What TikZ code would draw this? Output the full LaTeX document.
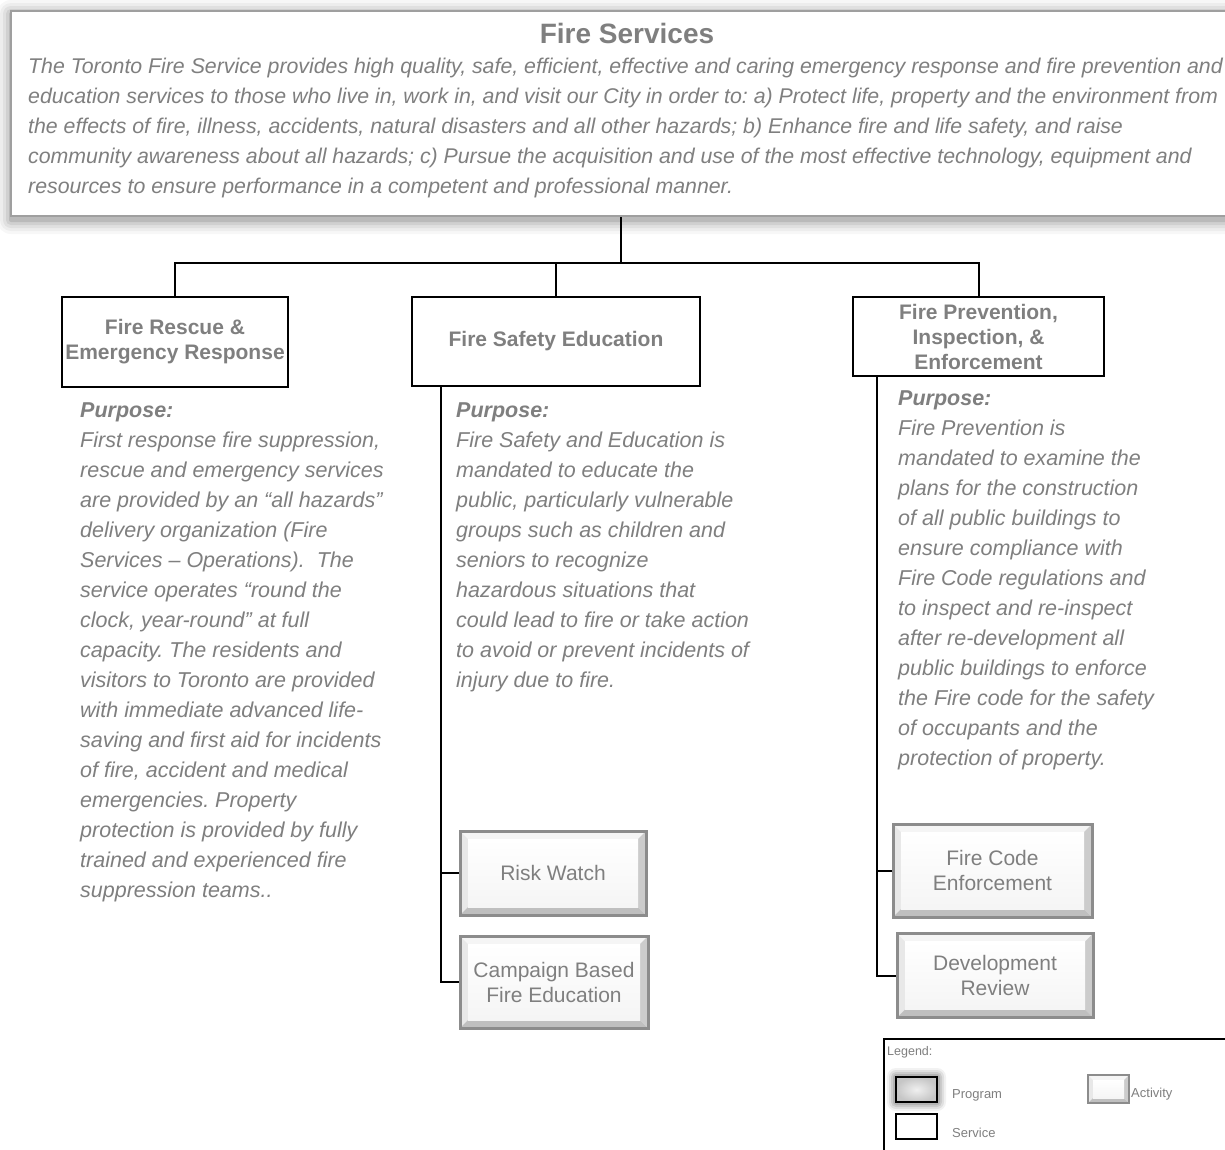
\documentclass[tikz,border=0pt]{standalone}
\usepackage{fontspec}
\setmainfont{Liberation Sans}
\frenchspacing
\definecolor{txt}{HTML}{7F7F7F}
\definecolor{actb}{HTML}{8C8C8C}
\newcommand\bevelpic[1]{%
  \coordinate (pa) at (path picture bounding box.north west);
  \coordinate (pb) at (path picture bounding box.south east);
  \coordinate (pc) at (pb |- pa);
  \coordinate (pd) at (pa |- pb);
  \fill[gray!8] (pa) -- (pc) -- ([shift={(-#1,#1)}]pc) -- ([shift={(#1,#1)}]pa) -- cycle;
  \fill[gray!18] (pa) -- ([shift={(#1,#1)}]pa) -- ([shift={(#1,-#1)}]pd) -- (pd) -- cycle;
  \fill[gray!40] (pc) -- (pb) -- ([shift={(-#1,-#1)}]pb) -- ([shift={(-#1,#1)}]pc) -- cycle;
  \fill[gray!50] (pd) -- (pb) -- ([shift={(-#1,-#1)}]pb) -- ([shift={(#1,-#1)}]pd) -- cycle;
  \shade[top color=white, bottom color=gray!8] ([shift={(#1,#1)}]pa) rectangle ([shift={(-#1,-#1)}]pb);
}
\begin{document}
\begin{tikzpicture}[x=1pt,y=-1pt,
  conn/.style={draw=black, line width=2pt},
  svc/.style={draw=black, line width=2pt, fill=white, font=\fontsize{21}{25}\selectfont\bfseries, text=txt, align=center, inner sep=0pt},
  activity/.style={draw=actb, line width=3pt, fill=white, font=\fontsize{21}{25}\selectfont, text=txt, align=center, inner sep=0pt, path picture={\bevelpic{8}}},
  actsmall/.style={draw=actb, line width=2pt, fill=white, inner sep=0pt, path picture={\bevelpic{5}}},
  purpose/.style={anchor=north west, inner sep=0pt, align=left, font=\fontsize{21.5}{30}\selectfont\itshape, text=txt},
  legtext/.style={anchor=west, inner sep=0pt, font=\fontsize{13}{15}\selectfont, text=txt}]
\useasboundingbox (0,0) rectangle (1225,1149);
\clip (0,0) rectangle (1225,1149);
\fill[white] (0,0) rectangle (1225,1149);

% top box shadow
\foreach \d/\op in {14/0.03,11/0.04,8/0.05,5/0.07,2/0.10} {
  \fill[black,opacity=\op,rounded corners=\d pt] (11-\d,11-\d+3) rectangle (1260,216+\d+4);
}
\node[draw=gray!75, line width=2pt, fill=white, minimum width=1240pt, minimum height=205pt, inner sep=0pt] (fs) at (631,113.5) {};
\node[font=\fontsize{28}{32}\selectfont\bfseries, text=txt] (fst) at (627,33) {Fire Services};
\node[purpose, font=\fontsize{21.3}{30}\selectfont\itshape] (fsb) at (28,58) {The Toronto Fire Service provides high quality, safe, efficient, effective and caring emergency response and fire prevention and\\
education services to those who live in, work in, and visit our City in order to: a) Protect life, property and the environment from\\
the effects of fire, illness, accidents, natural disasters and all other hazards; b) Enhance fire and life safety, and raise\\
community awareness about all hazards; c) Pursue the acquisition and use of the most effective technology, equipment and\\
resources to ensure performance in a competent and professional manner.};

% services
\node[svc, minimum width=226pt, minimum height=90pt] (b1) at (175,342) {Fire Rescue \&\\Emergency Response};
\node[svc, minimum width=288pt, minimum height=89pt] (b2) at (556,341.5) {Fire Safety Education};
\node[svc, minimum width=251pt, minimum height=79pt] (b3) at (978.5,336.5) {Fire Prevention,\\Inspection, \&\\Enforcement};

\coordinate (j) at (621,263);
\draw[conn] (j |- fs.south) -- (j);
\draw[conn] (b1.north) |- (j);
\draw[conn] (j) -| (b3.north);
\draw[conn] (j) -| (b2.north);

% purposes
\node[purpose] (p1) at (80,402) {\textbf{Purpose:}\\
First response fire suppression,\\
rescue and emergency services\\
are provided by an “all hazards”\\
delivery organization (Fire\\
Services – Operations).~ The\\
service operates “round the\\
clock, year-round” at full\\
capacity. The residents and\\
visitors to Toronto are provided\\
with immediate advanced life-\\
saving and first aid for incidents\\
of fire, accident and medical\\
emergencies. Property\\
protection is provided by fully\\
trained and experienced fire\\
suppression teams..};
\node[purpose] (p2) at (456,402) {\textbf{Purpose:}\\
Fire Safety and Education is\\
mandated to educate the\\
public, particularly vulnerable\\
groups such as children and\\
seniors to recognize\\
hazardous situations that\\
could lead to fire or take action\\
to avoid or prevent incidents of\\
injury due to fire.};
\node[purpose] (p3) at (898,390) {\textbf{Purpose:}\\
Fire Prevention is\\
mandated to examine the\\
plans for the construction\\
of all public buildings to\\
ensure compliance with\\
Fire Code regulations and\\
to inspect and re-inspect\\
after re-development all\\
public buildings to enforce\\
the Fire code for the safety\\
of occupants and the\\
protection of property.};

% activities
\node[activity, minimum width=186pt, minimum height=84pt] (rw) at (553,873) {Risk Watch};
\node[activity, minimum width=188pt, minimum height=92pt] (cb) at (554,982) {Campaign Based\\Fire Education};
\node[activity, minimum width=199pt, minimum height=93pt] (fc) at (992.5,870.5) {Fire Code\\Enforcement};
\node[activity, minimum width=196pt, minimum height=84pt] (dr) at (995,975.5) {Development\\Review};

\coordinate (v2) at ([xshift=30pt]b2.south west);
\coordinate (v3) at ([xshift=25pt]b3.south west);
\draw[conn] (v2) |- (rw.west);
\draw[conn] (v2) |- (cb.west);
\draw[conn] (v3) |- (fc.west);
\draw[conn] (v3) |- (dr.west);

% legend
\node[draw=black, line width=1.5pt, fill=white, minimum width=360pt, minimum height=130pt, inner sep=0pt] (leg) at (1064,1104) {};
\node[legtext, font=\fontsize{12.5}{15}\selectfont] (lgt) at (887,1052) {Legend:};
\foreach \d/\op in {9/0.05,7/0.07,5/0.09,3/0.11} {
  \fill[black,opacity=\op,rounded corners=\d pt] (896-\d,1077-\d) rectangle (937+\d,1102+\d);
}
\node[draw=black, line width=2.5pt, inner color=gray!12, outer color=gray!45, minimum width=41pt, minimum height=25pt, inner sep=0pt] (lprog) at (916.5,1089.5) {};
\node[legtext] (lprogt) at (952,1095) {Program};
\node[actsmall, minimum width=41pt, minimum height=28pt] (lact) at (1108.5,1089) {};
\node[legtext] (lactt) at (1131,1094) {Activity};
\node[draw=black, line width=2pt, fill=white, minimum width=41pt, minimum height=25pt, inner sep=0pt] (lsvc) at (916.5,1126.5) {};
\node[legtext] (lsvct) at (952,1133) {Service};
\end{tikzpicture}
\end{document}
